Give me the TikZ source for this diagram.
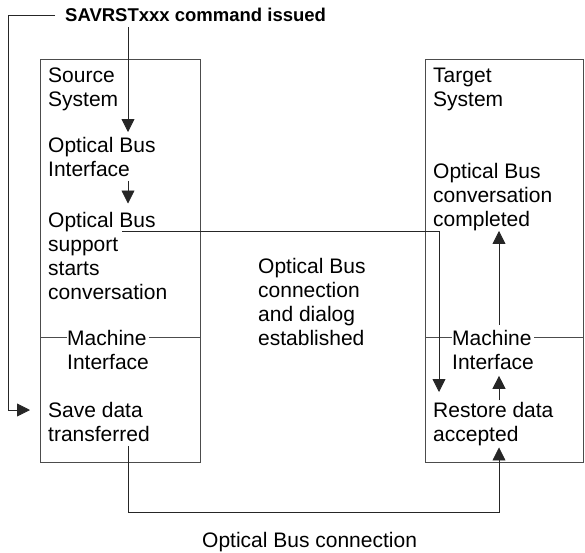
\documentclass[tikz,border=0pt]{standalone}
\usepackage{fontspec}
\setmainfont{Liberation Sans}
\usetikzlibrary{arrows.meta}
\begin{document}
\begin{tikzpicture}[x=1pt,y=-1pt,
  txt/.style={anchor=north west, inner sep=0pt, align=left, font=\fontsize{21}{24}\selectfont},
  lbl/.style={txt, fill=white},
  sysbox/.style={draw=black!70, line width=0.8pt, anchor=north west, inner sep=0pt,
                 minimum width=160pt, minimum height=403pt},
  divline/.style={draw=black!70, line width=0.8pt},
  conn/.style={draw=black!85, line width=0.8pt},
  arr/.style={conn, -{Triangle[length=13pt,width=13pt]}}]
\useasboundingbox (0,0) rectangle (585,552);

% system boxes
\node[sysbox] (srcbox) at (40,59) {};
\node[sysbox, minimum width=158pt] (tgtbox) at (425,59) {};
\coordinate (div) at (0,337);
\draw[divline] (srcbox.west |- div) -- (srcbox.east |- div);
\draw[divline] (tgtbox.west |- div) -- (tgtbox.east |- div);

% texts
\node[anchor=north west, inner sep=0pt, font=\bfseries\fontsize{18.5}{22}\selectfont] (title) at (65,8) {SAVRSTxxx command issued};
\node[txt] (src) at (48,68) {Source\\System};
\node[txt] (obi) at (48,137) {Optical Bus\\Interface};
\node[txt] (obs) at (48,212) {Optical Bus\\support\\starts\\conversation};
\node[lbl] (mi1) at (67,330) {Machine\\Interface};
\node[txt] (save) at (48,402) {Save data\\transferred};
\node[txt] (tgt) at (433,68) {Target\\System};
\node[txt] (obc) at (433,163) {Optical Bus\\conversation\\completed};
\node[lbl] (mi2) at (452,330) {Machine\\Interface};
\node[txt] (rda) at (433,402) {Restore data\\accepted};
\node[txt] (mid) at (258,258) {Optical Bus\\connection\\and dialog\\established};
\node[txt] (bot) at (202,532) {Optical Bus connection};

% helper coordinates
\coordinate (xa) at (128,0);
\coordinate (xb) at (499,0);
\coordinate (xl) at (8,0);
\coordinate (xr) at (439,0);
\coordinate (ybus) at (0,512);
\coordinate (ysave) at (0,410);
\coordinate (p3) at (122,231);

% connectors
\draw[arr, shorten <=5.5pt, shorten >=5pt] (title.south -| xa) -- (obi.north -| xa);
\draw[arr, shorten <=4pt, shorten >=8.5pt] (obi.south -| xa) -- (obs.north -| xa);
\draw[arr, shorten >=10pt] (p3) -| (rda.north -| xr);
\draw[arr, shorten <=5pt] (mi2.north -| xb) -- (obc.south -| xb);
\draw[arr, shorten <=2pt, shorten >=6pt] (rda.north -| xb) -- (mi2.south -| xb);
\draw[arr, shorten <=4pt, shorten >=1.5pt] (save.south -| xa) -- (xa |- ybus) -- (xb |- ybus) -- (rda.south -| xb);
\draw[arr, shorten <=10pt, shorten >=18pt] (title.west) -- (title.west -| xl) -- (xl |- ysave) -- (save.west |- ysave);
\end{tikzpicture}
\end{document}
